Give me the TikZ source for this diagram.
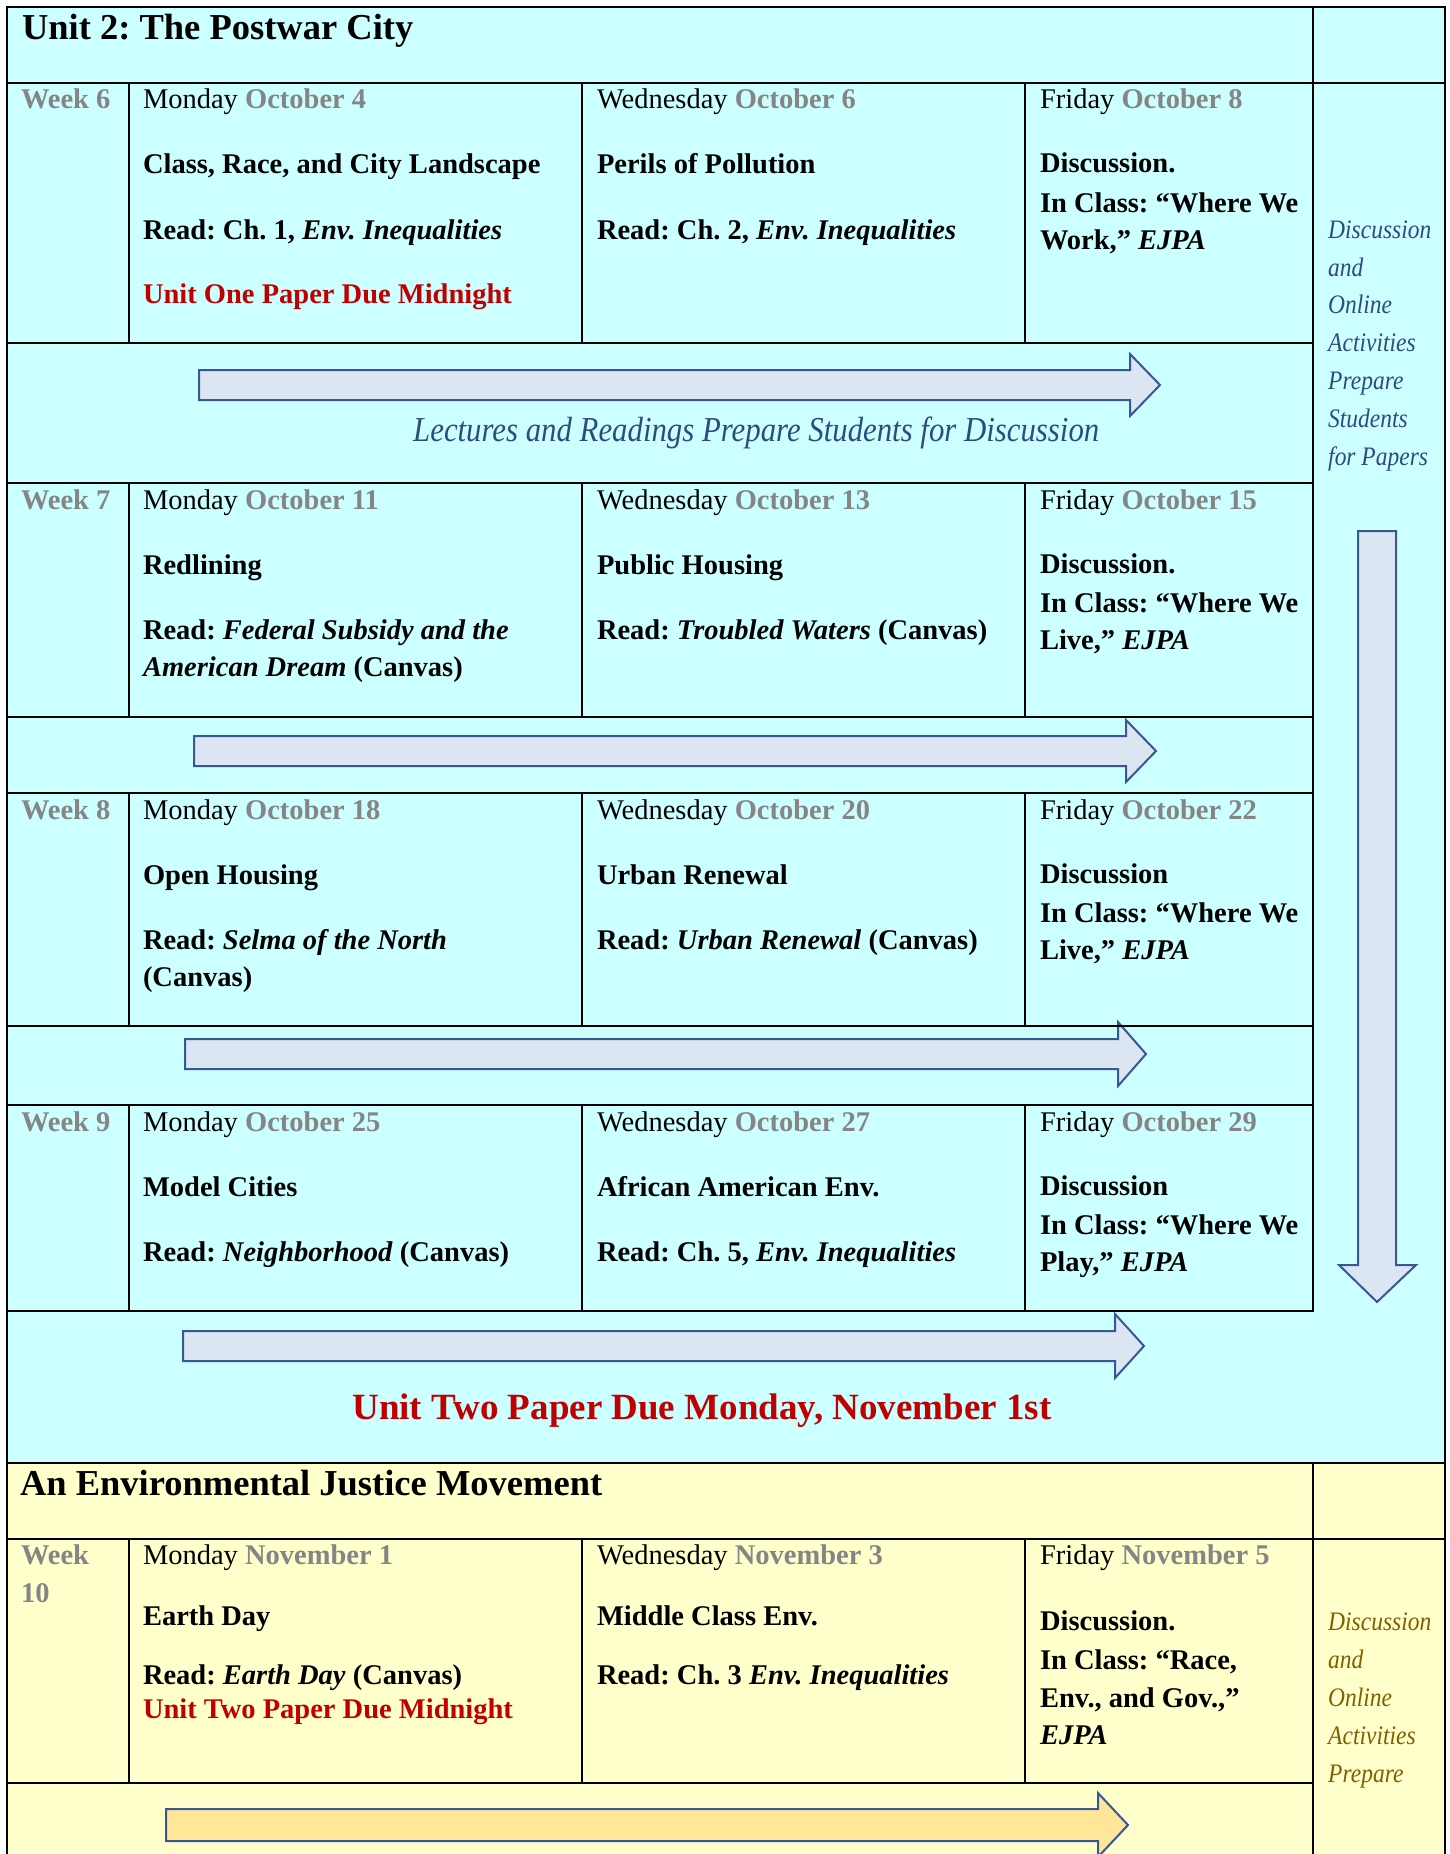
\documentclass[tikz,border=0pt]{standalone}
\usepackage{fontspec}
\setmainfont{Liberation Serif}
\newfontfamily\condfont{Liberation Serif}[FakeStretch=0.88]
\definecolor{cyanbg}{HTML}{CCFFFF}
\definecolor{yellowbg}{HTML}{FFFFCC}
\definecolor{gry}{HTML}{858585}
\definecolor{redtxt}{HTML}{C00000}
\definecolor{sideblue}{HTML}{2F4B7C}
\definecolor{sidegold}{HTML}{7F6000}
\definecolor{arrowblue}{HTML}{3A5795}
\definecolor{arrowfill}{HTML}{DCE6F2}
\definecolor{arrowgold}{HTML}{FFE699}
\newcommand{\dayhd}[2]{#1 \textcolor{gry}{\bfseries #2}}
\newcommand{\wk}[1]{\textcolor{gry}{\bfseries #1}}
\frenchspacing
\begin{document}
\begin{tikzpicture}[x=1pt,y=-1pt,
  txt/.style={anchor=base west, inner sep=0pt, outer sep=0pt, font=\fontsize{28.5}{37}\selectfont, text=black},
  bodytxt/.style={txt, font=\fontsize{28.5}{37}\selectfont\bfseries},
  redtext/.style={txt, font=\fontsize{28.5}{37}\selectfont\bfseries, text=redtxt},
  hd/.style={txt, font=\fontsize{36.5}{44}\selectfont\bfseries},
  side/.style={anchor=base west, inner sep=0pt, font=\condfont\itshape\fontsize{26.7}{34}\selectfont, text=sideblue},
  sidey/.style={side, text=sidegold},
  lect/.style={anchor=base west, inner sep=0pt, font=\condfont\itshape\fontsize{35}{44}\selectfont, text=sideblue},
  rowline/.style={line width=2.2pt, line cap=rect},
  colline/.style={line width=1.4pt},
  bigarrow/.style={draw=arrowblue, line width=2pt, fill=arrowfill, line join=miter},
  goldarrow/.style={bigarrow, fill=arrowgold}
]
\useasboundingbox (0,0) rectangle (1449,1854);
\clip (0,0) rectangle (1449,1854);
% backgrounds
\fill[cyanbg] (7,7) rectangle (1445,1463);
\fill[yellowbg] (7,1463) rectangle (1445,1854);

% arrows
\draw[bigarrow] (199,370) -- (1130,370) -- (1130,354) -- (1160,385) -- (1130,416) -- (1130,400) -- (199,400) -- cycle;
\draw[bigarrow] (194,736) -- (1126,736) -- (1126,720) -- (1156,751) -- (1126,782) -- (1126,766) -- (194,766) -- cycle;
\draw[bigarrow] (185,1039) -- (1118,1039) -- (1118,1022) -- (1146,1054) -- (1118,1086) -- (1118,1069) -- (185,1069) -- cycle;
\draw[bigarrow] (183,1331) -- (1115,1331) -- (1115,1314) -- (1144,1346) -- (1115,1378) -- (1115,1361) -- (183,1361) -- cycle;
\draw[goldarrow] (166,1809) -- (1098,1809) -- (1098,1793) -- (1128,1825) -- (1098,1857) -- (1098,1841) -- (166,1841) -- cycle;
\draw[bigarrow] (1358,531) -- (1396,531) -- (1396,1265) -- (1416,1265) -- (1377,1302) -- (1339,1265) -- (1358,1265) -- cycle;

% grid: outer frame
\draw[rowline] (7,1860) -- (7,7) -- (1445,7) -- (1445,1860);
% full-width lines
\draw[rowline] (7,83) -- (1445,83);
\draw[rowline] (7,1463) -- (1445,1463);
\draw[rowline] (7,1539) -- (1445,1539);
% right column divider
\draw[colline] (1313,7) -- (1313,1311);
\draw[colline] (1313,1463) -- (1313,1860);
% row lines up to the right column
\foreach \yy in {343,483,717,793,1026,1105,1311,1783}
  \draw[rowline] (7,\yy) -- (1313,\yy);
% inner column dividers
\foreach \ya/\yb in {83/343,483/717,793/1026,1105/1311,1539/1783}{
  \draw[colline] (129,\ya) -- (129,\yb);
  \draw[colline] (582,\ya) -- (582,\yb);
  \draw[colline] (1025,\ya) -- (1025,\yb);
}

% ---------- Unit 2 ----------
\node[hd] (title1) at (22,40) {Unit 2: The Postwar City};

% Week 6
\node[txt] (w6) at (21,109) {\wk{Week 6}};
\node[txt] (w6m0) at (143,109) {\dayhd{Monday}{October 4}};
\node[bodytxt] (w6m1) at (143,174) {Class, Race, and City Landscape};
\node[bodytxt] (w6m2) at (143,239) {Read: Ch. 1, \textit{Env. Inequalities}};
\node[redtext] (w6m3) at (143,303) {Unit One Paper Due Midnight};
\node[txt] (w6w0) at (597,109) {\dayhd{Wednesday}{October 6}};
\node[bodytxt] (w6w1) at (597,174) {Perils of Pollution};
\node[bodytxt] (w6w2) at (597,239) {Read: Ch. 2, \textit{Env. Inequalities}};
\node[txt] (w6f0) at (1040,109) {\dayhd{Friday}{October 8}};
\node[bodytxt] (w6f1) at (1040,173) {Discussion.};
\node[bodytxt] (w6f2) at (1040,212) {In Class: “Where We};
\node[bodytxt] (w6f3) at (1040,249) {Work,” \textit{EJPA}};

\node[lect] (lect) at (413,441) {Lectures and Readings Prepare Students for Discussion};

% Week 7
\node[txt] (w7) at (21,509) {\wk{Week 7}};
\node[txt] (w7m0) at (143,509) {\dayhd{Monday}{October 11}};
\node[bodytxt] (w7m1) at (143,574) {Redlining};
\node[bodytxt] (w7m2) at (143,639) {Read: \textit{Federal Subsidy and the}};
\node[bodytxt] (w7m3) at (143,676) {\textit{American Dream} (Canvas)};
\node[txt] (w7w0) at (597,509) {\dayhd{Wednesday}{October 13}};
\node[bodytxt] (w7w1) at (597,574) {Public Housing};
\node[bodytxt] (w7w2) at (597,639) {Read: \textit{Troubled Waters} (Canvas)};
\node[txt] (w7f0) at (1040,509) {\dayhd{Friday}{October 15}};
\node[bodytxt] (w7f1) at (1040,573) {Discussion.};
\node[bodytxt] (w7f2) at (1040,612) {In Class: “Where We};
\node[bodytxt] (w7f3) at (1040,649) {Live,” \textit{EJPA}};

% Week 8
\node[txt] (w8) at (21,819) {\wk{Week 8}};
\node[txt] (w8m0) at (143,819) {\dayhd{Monday}{October 18}};
\node[bodytxt] (w8m1) at (143,884) {Open Housing};
\node[bodytxt] (w8m2) at (143,949) {Read: \textit{Selma of the North}};
\node[bodytxt] (w8m3) at (143,986) {(Canvas)};
\node[txt] (w8w0) at (597,819) {\dayhd{Wednesday}{October 20}};
\node[bodytxt] (w8w1) at (597,884) {Urban Renewal};
\node[bodytxt] (w8w2) at (597,949) {Read: \textit{Urban Renewal} (Canvas)};
\node[txt] (w8f0) at (1040,819) {\dayhd{Friday}{October 22}};
\node[bodytxt] (w8f1) at (1040,883) {Discussion};
\node[bodytxt] (w8f2) at (1040,922) {In Class: “Where We};
\node[bodytxt] (w8f3) at (1040,959) {Live,” \textit{EJPA}};

% Week 9
\node[txt] (w9) at (21,1131) {\wk{Week 9}};
\node[txt] (w9m0) at (143,1131) {\dayhd{Monday}{October 25}};
\node[bodytxt] (w9m1) at (143,1196) {Model Cities};
\node[bodytxt] (w9m2) at (143,1261) {Read: \textit{Neighborhood} (Canvas)};
\node[txt] (w9w0) at (597,1131) {\dayhd{Wednesday}{October 27}};
\node[bodytxt] (w9w1) at (597,1196) {African American Env.};
\node[bodytxt] (w9w2) at (597,1261) {Read: Ch. 5, \textit{Env. Inequalities}};
\node[txt] (w9f0) at (1040,1131) {\dayhd{Friday}{October 29}};
\node[bodytxt] (w9f1) at (1040,1195) {Discussion};
\node[bodytxt] (w9f2) at (1040,1234) {In Class: “Where We};
\node[bodytxt] (w9f3) at (1040,1271) {Play,” \textit{EJPA}};

\node[anchor=base, inner sep=0pt, font=\fontsize{37}{44}\selectfont\bfseries, text=redtxt] (due2) at (702,1419) {Unit Two Paper Due Monday, November 1st};

% right column (cyan)
\node[side] (s1) at (1328,238) {Discussion};
\node[side] (s2) at (1328,276) {and};
\node[side] (s3) at (1328,313) {Online};
\node[side] (s4) at (1328,351) {Activities};
\node[side] (s5) at (1328,389) {Prepare};
\node[side] (s6) at (1328,427) {Students};
\node[side] (s7) at (1328,465) {for Papers};

% ---------- EJ Movement ----------
\node[hd] (title2) at (20,1495) {An Environmental Justice Movement};

\node[txt] (w10a) at (21,1564) {\wk{Week}};
\node[txt] (w10b) at (21,1602) {\wk{10}};
\node[txt] (w10m0) at (143,1564) {\dayhd{Monday}{November 1}};
\node[bodytxt] (w10m1) at (143,1625) {Earth Day};
\node[bodytxt] (w10m2) at (143,1684) {Read: \textit{Earth Day} (Canvas)};
\node[redtext] (w10m3) at (143,1718) {Unit Two Paper Due Midnight};
\node[txt] (w10w0) at (597,1564) {\dayhd{Wednesday}{November 3}};
\node[bodytxt] (w10w1) at (597,1625) {Middle Class Env.};
\node[bodytxt] (w10w2) at (597,1684) {Read: Ch. 3 \textit{Env. Inequalities}};
\node[txt] (w10f0) at (1040,1564) {\dayhd{Friday}{November 5}};
\node[bodytxt] (w10f1) at (1040,1630) {Discussion.};
\node[bodytxt] (w10f2) at (1040,1669) {In Class: “Race,};
\node[bodytxt] (w10f3) at (1040,1707) {Env., and Gov.,”};
\node[bodytxt] (w10f4) at (1040,1744) {\textit{EJPA}};

\node[sidey] (y1) at (1328,1630) {Discussion};
\node[sidey] (y2) at (1328,1668) {and};
\node[sidey] (y3) at (1328,1706) {Online};
\node[sidey] (y4) at (1328,1744) {Activities};
\node[sidey] (y5) at (1328,1782) {Prepare};
\end{tikzpicture}
\end{document}
